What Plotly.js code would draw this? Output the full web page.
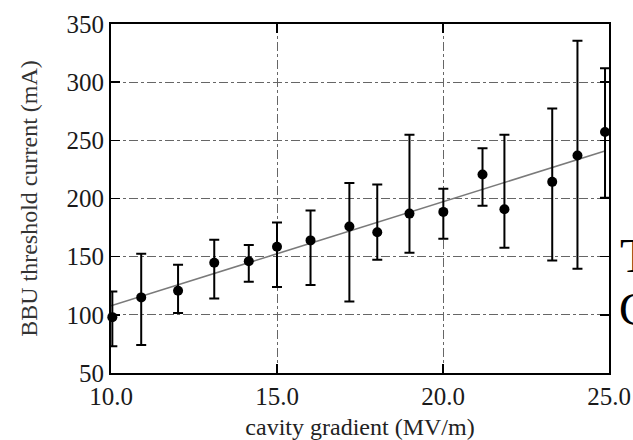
<!DOCTYPE html>
<html>
<head>
<meta charset="utf-8">
<script src="https://cdn.plot.ly/plotly-3.0.1.min.js"></script>
<style>html,body{margin:0;padding:0;background:#fff;}#chart{width:633px;height:440px;}</style>
</head>
<body>
<div id="chart"></div>
<script>
// Cavity gradient (MV/m)
const gradient = [10.04, 10.91, 12.02, 13.11, 14.15, 15.0, 16.01, 17.18, 18.02, 18.99, 20.01, 21.19, 21.85, 23.29, 24.05, 24.88];
// BBU threshold current (mA)
const current  = [98, 115, 120.7, 144.7, 146, 158.5, 164, 176, 171, 187, 188.5, 220.6, 190.8, 214.3, 237, 257.2];
const upperLim = [120, 152.5, 143, 164.5, 160, 179.4, 189.7, 213.4, 212, 254.7, 208.3, 243.2, 254.7, 277.3, 335.7, 312];
const lowerLim = [73, 74, 101.5, 114, 128.4, 124, 125.6, 111.5, 147.3, 153.3, 165.3, 193.7, 157.6, 146.7, 139.6, 200.6];
// Linear fit line
const fitX = [10, 24.9];
const fitY = [107.8, 241];
const xTicks = [10, 15, 20, 25];
const yTicks = [50, 100, 150, 200, 250, 300, 350];

const plus = current.map((v, i) => upperLim[i] - v);
const minus = current.map((v, i) => v - lowerLim[i]);

const serif = '"Liberation Serif", "DejaVu Serif", serif';

const traces = [
  {
    x: fitX, y: fitY, mode: 'lines', type: 'scatter',
    line: {color: '#7a7a7a', width: 1.6},
    hoverinfo: 'skip', showlegend: false
  },
  {
    x: gradient, y: current, mode: 'markers', type: 'scatter',
    marker: {color: '#000', size: 10, symbol: 'circle'},
    error_y: {type: 'data', array: plus, arrayminus: minus, symmetric: false,
              color: '#000', thickness: 2, width: 5},
    cliponaxis: false, showlegend: false
  }
];

const axisCommon = {
  showline: true, linecolor: '#000', linewidth: 2, mirror: 'ticks',
  ticks: 'inside', ticklen: 9, tickwidth: 1.5, tickcolor: '#000',
  showgrid: true, gridcolor: '#666', griddash: 'dashdot', gridwidth: 1,
  zeroline: false, tickfont: {family: serif, size: 25, color: '#1a1a1a'},
  automargin: false
};

const layout = {
  width: 633, height: 440,
  margin: {l: 111, r: 24, t: 24, b: 67},
  paper_bgcolor: '#fff', plot_bgcolor: '#fff',
  xaxis: Object.assign({}, axisCommon, {
    range: [10, 25], tickvals: xTicks, ticktext: xTicks.map(v => v.toFixed(1)),
    title: {text: 'cavity gradient (MV/m)', font: {family: serif, size: 24, color: '#222'}, standoff: 10}
  }),
  yaxis: Object.assign({}, axisCommon, {
    range: [50, 350], tickvals: yTicks, ticktext: yTicks.map(String),
    title: {text: 'BBU threshold current (mA)', font: {family: serif, size: 24, color: '#333'}, standoff: 22}
  }),
  annotations: [
    {xref: 'paper', yref: 'paper', x: 1.018, y: 0.255, xanchor: 'left', yanchor: 'bottom',
     text: 'T', showarrow: false, font: {family: serif, size: 48, color: '#000'}},
    {xref: 'paper', yref: 'paper', x: 1.016, y: 0.103, xanchor: 'left', yanchor: 'bottom',
     text: 'C', showarrow: false, font: {family: serif, size: 46, color: '#000'}}
  ]
};

Plotly.newPlot('chart', traces, layout, {displayModeBar: false, staticPlot: true});
</script>
</body>
</html>
